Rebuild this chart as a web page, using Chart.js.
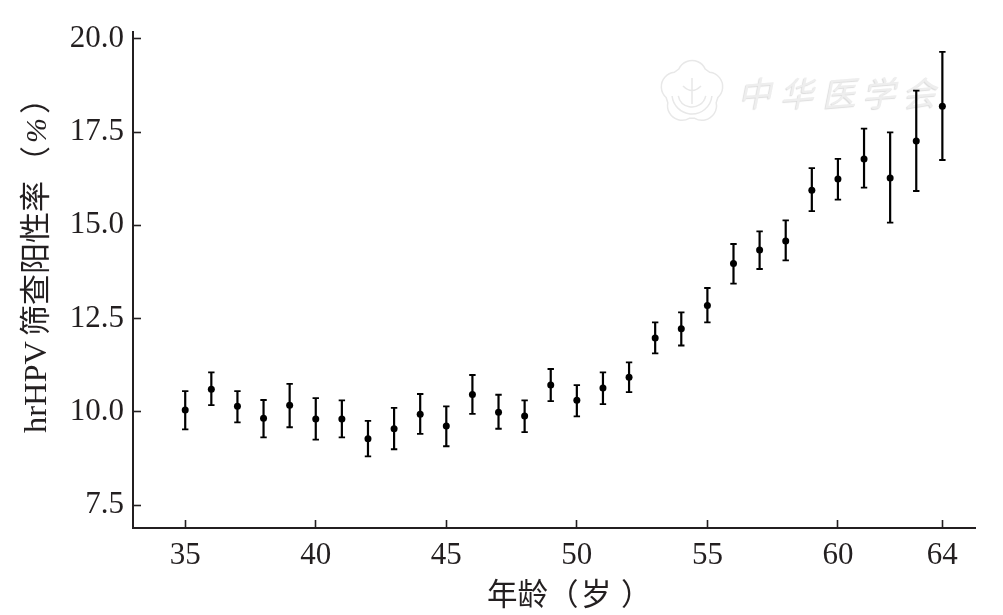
<!DOCTYPE html>
<html>
<head>
<meta charset="utf-8">
<title>hrHPV</title>
<script src="https://cdn.jsdelivr.net/npm/chart.js@4"></script>
<style>
    html, body { margin: 0; padding: 0; background: #fff; }
    canvas { display: block; }
</style>
</head>
<body>
<canvas id="chart" width="1003" height="615"></canvas>
<script>
const ages = [35, 36, 37, 38, 39, 40, 41, 42, 43, 44, 45, 46, 47, 48, 49,
    50, 51, 52, 53, 54, 55, 56, 57, 58, 59, 60, 61, 62, 63, 64];
const rates = [10.05, 10.61, 10.15, 9.83, 10.18, 9.81, 9.81, 9.28, 9.55, 9.94, 9.62, 10.47, 9.99, 9.89, 10.72,
    10.31, 10.64, 10.93, 11.98, 12.23, 12.85, 13.98, 14.34, 14.58, 15.94, 16.24, 16.78, 16.27, 17.26, 18.19];
const upper = [10.56, 11.06, 10.56, 10.32, 10.75, 10.37, 10.31, 9.76, 10.11, 10.48, 10.15, 10.99, 10.46, 10.31, 11.15,
    10.72, 11.06, 11.33, 12.40, 12.67, 13.32, 14.50, 14.84, 15.13, 16.53, 16.78, 17.59, 17.49, 18.61, 19.65];
const lower = [9.53, 10.18, 9.72, 9.32, 9.59, 9.26, 9.32, 8.81, 9.00, 9.41, 9.08, 9.95, 9.55, 9.46, 10.29,
    9.88, 10.21, 10.53, 11.57, 11.78, 12.40, 13.44, 13.83, 14.06, 15.38, 15.69, 16.01, 15.07, 15.92, 16.75];
const xTicks = [35, 40, 45, 50, 55, 60, 64];
const yTicks = [7.5, 10, 12.5, 15, 17.5, 20];
const watermark = ['中', '华', '医', '学', '会'];

const inkColor = '#231f20';
const serif = '"Liberation Serif", "Noto Sans CJK SC", serif';

// Faint seal and society name behind the data
const watermarkPlugin = {
    id: 'watermark',
    beforeDatasetsDraw(chart) {
        const ctx = chart.ctx;
        ctx.save();
        ctx.strokeStyle = '#e8e8e8';
        ctx.lineWidth = 1.5;

        // scalloped seal outline
        const cx = 692, cy = 92;
        ctx.beginPath();
        for (let i = 0; i < 5; i++) {
            const a = -Math.PI / 2 + i * 2 * Math.PI / 5;
            ctx.arc(cx + 17 * Math.cos(a), cy + 17 * Math.sin(a), 14.5, a - 1.15, a + 1.15);
        }
        ctx.closePath();
        ctx.stroke();
        ctx.beginPath();
        ctx.arc(cx, cy + 2, 20, 0.1, Math.PI - 0.1);
        ctx.stroke();
        ctx.beginPath();
        ctx.arc(cx, cy + 1, 14, 0.2, Math.PI - 0.2);
        ctx.stroke();
        ctx.beginPath();
        ctx.moveTo(cx, cy - 14);
        ctx.lineTo(cx, cy + 12);
        ctx.moveTo(cx - 9, cy - 6);
        ctx.quadraticCurveTo(cx, cy + 3, cx + 9, cy - 6);
        ctx.stroke();

        // society name
        ctx.fillStyle = '#eeeeee';
        ctx.shadowColor = '#dcdcdc';
        ctx.shadowBlur = 1;
        ctx.shadowOffsetX = -1;
        ctx.shadowOffsetY = 1;
        ctx.font = '34px "Noto Sans CJK SC"';
        ctx.textAlign = 'center';
        ctx.textBaseline = 'middle';
        const xs = [758, 800, 842, 882, 922];
        watermark.forEach((ch, i) => {
            ctx.save();
            ctx.translate(xs[i], 93);
            ctx.transform(1, -0.08, -0.2, 1, 0, 0);
            ctx.fillText(ch, 0, 0);
            ctx.restore();
        });
        ctx.restore();
    }
};

// Vertical bars with small caps, drawn through the scales
const errorBarPlugin = {
    id: 'errorBars',
    beforeDatasetsDraw(chart) {
        const ctx = chart.ctx;
        const x = chart.scales.x, y = chart.scales.y;
        ctx.save();
        ctx.strokeStyle = '#000';
        ages.forEach((age, i) => {
            const px = x.getPixelForValue(age);
            const top = y.getPixelForValue(upper[i]);
            const bottom = y.getPixelForValue(lower[i]);
            ctx.lineWidth = 2.2;
            ctx.beginPath();
            ctx.moveTo(px, top);
            ctx.lineTo(px, bottom);
            ctx.stroke();
            ctx.lineWidth = 1.8;
            ctx.beginPath();
            ctx.moveTo(px - 3.2, top);
            ctx.lineTo(px + 3.2, top);
            ctx.moveTo(px - 3.2, bottom);
            ctx.lineTo(px + 3.2, bottom);
            ctx.stroke();
        });
        ctx.restore();
    }
};

// Axis titles, spaced out the way the journal sets them
const axisTitlePlugin = {
    id: 'axisTitles',
    afterDraw(chart) {
        const ctx = chart.ctx;
        ctx.save();
        ctx.fillStyle = inkColor;
        ctx.textBaseline = 'alphabetic';
        ctx.textAlign = 'left';

        ctx.font = '30.5px ' + serif;
        ctx.fillText('年龄（', 487, 605);
        ctx.fillText('岁', 581, 605);
        ctx.fillText('）', 621, 605);

        ctx.translate(46, 0);
        ctx.rotate(-Math.PI / 2);
        ctx.font = '32.5px ' + serif;
        ctx.fillText('hrHPV', -433, 0);
        ctx.font = '31px ' + serif;
        ctx.fillText('筛查阳性率', -336, 0);
        ctx.fillText('（', -177, 0);
        ctx.fillText('）', -114, 0);
        ctx.font = 'italic 30px ' + serif;
        ctx.fillText('%', -143, 0);
        ctx.restore();
    }
};

new Chart(document.getElementById('chart').getContext('2d'), {
    type: 'scatter',
    data: {
        datasets: [{
            data: ages.map((age, i) => ({ x: age, y: rates[i] })),
            backgroundColor: '#000',
            borderColor: '#000',
            pointRadius: 3.5,
            pointBorderWidth: 0
        }]
    },
    plugins: [watermarkPlugin, errorBarPlugin, axisTitlePlugin],
    options: {
        responsive: false,
        animation: false,
        layout: { padding: { top: 32, right: 28 } },
        plugins: { legend: { display: false }, tooltip: { enabled: false } },
        scales: {
            x: {
                type: 'linear',
                min: 33,
                max: 65.25,
                afterBuildTicks: scale => { scale.ticks = xTicks.map(v => ({ value: v })); },
                afterFit: scale => {
                    scale.height = 87;
                    scale.paddingLeft = 0;
                    scale.paddingRight = 0;
                },
                grid: { drawOnChartArea: false, tickLength: -8, tickWidth: 1.6, tickColor: inkColor },
                border: { color: inkColor, width: 2 },
                ticks: {
                    autoSkip: false,
                    maxRotation: 0,
                    padding: 17,
                    color: inkColor,
                    font: { family: serif, size: 31 }
                }
            },
            y: {
                type: 'linear',
                min: 6.89,
                max: 20.18,
                afterBuildTicks: scale => { scale.ticks = yTicks.map(v => ({ value: v })); },
                afterFit: scale => {
                    scale.width = 133;
                    scale.paddingTop = 0;
                    scale.paddingBottom = 0;
                },
                grid: { drawOnChartArea: false, tickLength: -8, tickWidth: 1.6, tickColor: inkColor },
                border: { color: inkColor, width: 2 },
                ticks: {
                    padding: 17,
                    color: inkColor,
                    font: { family: serif, size: 31 },
                    callback: v => v.toFixed(1)
                }
            }
        }
    }
});
</script>
</body>
</html>
